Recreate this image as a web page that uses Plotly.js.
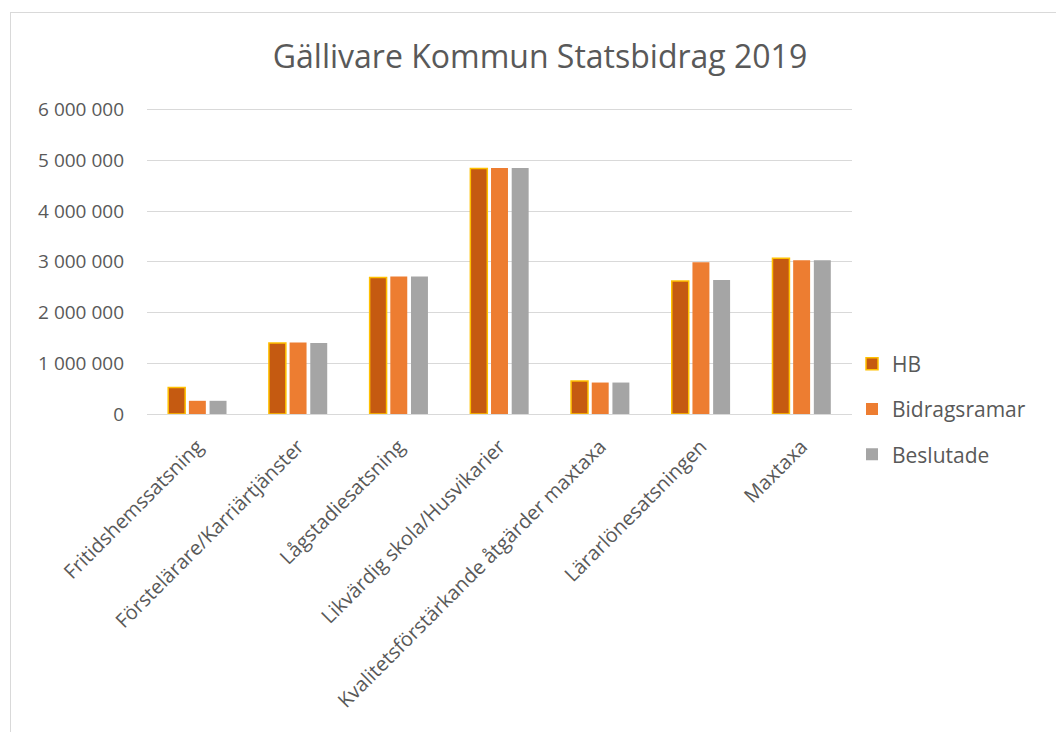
<!DOCTYPE html>
<html>
<head>
<meta charset="utf-8">
<script src="https://cdn.plot.ly/plotly-3.0.1.min.js"></script>
<style>
  html, body { margin: 0; padding: 0; background: #fff; }
  #wrap { position: relative; width: 1056px; height: 732px; overflow: hidden; }
  #frame { position: absolute; left: 10px; top: 12px; width: 1100px; height: 800px; border: 1px solid #D9D9D9; box-sizing: border-box; pointer-events: none; }
  #chart { position: absolute; left: 0; top: 0; width: 1056px; height: 732px; }
</style>
</head>
<body>
<div id="wrap">
  <div id="chart"></div>
  <div id="frame"></div>
</div>
<script>
const categories = [
  "Fritidshemssatsning",
  "Förstelärare/Karriärtjänster",
  "Lågstadiesatsning",
  "Likvärdig skola/Husvikarier",
  "Kvalitetsförstärkande åtgärder maxtaxa",
  "Lärarlönesatsningen",
  "Maxtaxa"
];
const seriesNames = ["HB", "Bidragsramar", "Beslutade"];
const hbValues = [520000, 1400000, 2690000, 4840000, 650000, 2620000, 3070000];
const bidragsramarValues = [260000, 1410000, 2710000, 4850000, 620000, 2990000, 3030000];
const beslutadeValues = [260000, 1400000, 2710000, 4850000, 620000, 2640000, 3030000];
const yTickValues = [0, 1000000, 2000000, 3000000, 4000000, 5000000, 6000000];

const font = "'Open Sans', 'Noto Sans', sans-serif";
const txt = "#595959";

const traces = [
  { name: seriesNames[0], y: hbValues, color: "#C55A11", line: { color: "#FFC000", width: 1.5 } },
  { name: seriesNames[1], y: bidragsramarValues, color: "#ED7D31", line: { color: "#ED7D31", width: 0 } },
  { name: seriesNames[2], y: beslutadeValues, color: "#A5A5A5", line: { color: "#A5A5A5", width: 0 } }
].map((s, i) => ({
  type: "bar",
  name: s.name,
  x: categories,
  y: s.y,
  legendgroup: "g" + i,
  marker: { color: s.color, line: s.line },
  hoverinfo: "skip"
}));

const layout = {
  width: 1056,
  height: 732,
  paper_bgcolor: "rgba(0,0,0,0)",
  plot_bgcolor: "rgba(0,0,0,0)",
  margin: { l: 147, r: 204, t: 108, b: 318, autoexpand: false },
  separators: ", ",
  title: {
    text: "Gällivare Kommun Statsbidrag 2019",
    font: { family: font, size: 32, color: txt },
    xref: "paper",
    x: 0.0, xanchor: "center",
    y: 0.922, yanchor: "middle"
  },
  barmode: "group",
  bargap: 0.384,
  bargroupgap: 0.18,
  xaxis: {
    type: "category",
    tickangle: -45,
    tickfont: { family: font, size: 20, color: txt },
    showgrid: false,
    showline: true,
    linecolor: "#D9D9D9",
    linewidth: 1,
    ticks: "",
    ticklabelstandoff: 12,
    automargin: false
  },
  yaxis: {
    range: [0, 6030000],
    tickvals: yTickValues,
    tickformat: ",.0f",
    tickfont: { family: font, size: 19, color: txt },
    gridcolor: "#D9D9D9",
    gridwidth: 1,
    zeroline: false,
    showline: false,
    ticks: "",
    ticklabelstandoff: 22,
    automargin: false
  },
  showlegend: true,
  legend: {
    x: 1.0, xanchor: "left",
    y: 0.23, yanchor: "top",
    font: { family: font, size: 21, color: txt },
    tracegroupgap: 15,
    traceorder: "grouped",
    itemwidth: 30,
    bgcolor: "rgba(0,0,0,0)"
  }
};
// title centred over the chart area at x ≈ 540px
layout.title.x = (540 - layout.margin.l) / (1056 - layout.margin.l - layout.margin.r);

Plotly.newPlot("chart", traces, layout, { displayModeBar: false, staticPlot: true });
</script>
</body>
</html>
